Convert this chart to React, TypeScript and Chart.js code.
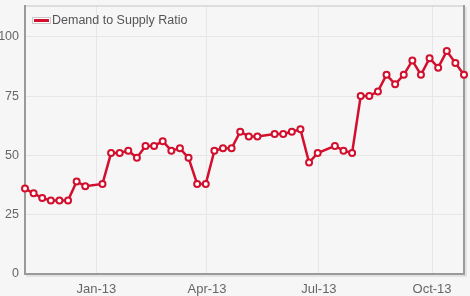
import React, { useEffect, useRef } from "react";
import { Chart, registerables } from "chart.js";

Chart.register(...registerables);

const seriesName = "Demand to Supply Ratio";
const dates = [
  "2012-11-04", "2012-11-11", "2012-11-18", "2012-11-25", "2012-12-02", "2012-12-09", "2012-12-16", "2012-12-23",
  "2013-01-06", "2013-01-13", "2013-01-20", "2013-01-27", "2013-02-03", "2013-02-10", "2013-02-17", "2013-02-24",
  "2013-03-03", "2013-03-10", "2013-03-17", "2013-03-24", "2013-03-31", "2013-04-07", "2013-04-14", "2013-04-21",
  "2013-04-28", "2013-05-05", "2013-05-12", "2013-05-26", "2013-06-02", "2013-06-09", "2013-06-16", "2013-06-23",
  "2013-06-30", "2013-07-14", "2013-07-21", "2013-07-28", "2013-08-04", "2013-08-11", "2013-08-18", "2013-08-25",
  "2013-09-01", "2013-09-08", "2013-09-15", "2013-09-22", "2013-09-29", "2013-10-06", "2013-10-13", "2013-10-20",
  "2013-10-27",
];
const ratios = [
  36, 34, 32, 31, 31, 31, 39, 37,
  38, 51, 51, 52, 49, 54, 54, 56,
  52, 53, 49, 38, 38, 52, 53, 53,
  60, 58, 58, 59, 59, 60, 61, 47,
  51, 54, 52, 51, 75, 75, 77, 84,
  80, 84, 90, 84, 91, 87, 94, 89,
  84,
];
const xTickDates = ["2013-01-01", "2013-04-01", "2013-07-01", "2013-10-01"];
const xTickLabels = ["Jan-13", "Apr-13", "Jul-13", "Oct-13"];
const yTicks = [0, 25, 50, 75, 100];

const DAY = 86400000;
const toDay = (s: string) => Date.parse(s + "T00:00:00Z") / DAY;

export default function App() {
  const ref = useRef<HTMLCanvasElement>(null);
  useEffect(() => {
    document.body.style.margin = "0";
    document.body.style.background = "#f6f6f6";
    const tickDays = xTickDates.map(toDay);
    const lineColor = "#d2102e";
    const framePlugin = {
      id: "frame",
      beforeDatasetsDraw(chart: any) {
        const { ctx, chartArea: a } = chart;
        ctx.save();
        ctx.lineCap = "square";
        ctx.strokeStyle = "#d4d4d4";
        ctx.lineWidth = 1.5;
        ctx.beginPath();
        ctx.moveTo(a.left, a.top);
        ctx.lineTo(a.right, a.top);
        ctx.stroke();
        ctx.strokeStyle = "#dcdcdc";
        ctx.lineWidth = 1.5;
        ctx.beginPath();
        ctx.moveTo(a.right + 2, a.top + 2);
        ctx.lineTo(a.right + 2, a.bottom + 2);
        ctx.lineTo(a.left + 2, a.bottom + 2);
        ctx.stroke();
        ctx.strokeStyle = "#9a9a9a";
        ctx.lineWidth = 2;
        ctx.beginPath();
        ctx.moveTo(a.left, a.top);
        ctx.lineTo(a.left, a.bottom);
        ctx.lineTo(a.right, a.bottom);
        ctx.lineTo(a.right, a.top);
        ctx.stroke();
        ctx.restore();
      },
      afterDraw(chart: any) {
        const { ctx, chartArea: a } = chart;
        ctx.save();
        const bx = a.left + 7, by = a.top + 11;
        ctx.fillStyle = "#ffffff";
        ctx.fillRect(bx, by, 19, 6);
        ctx.strokeStyle = "#c8c8c8";
        ctx.lineWidth = 1;
        ctx.strokeRect(bx + 0.5, by + 0.5, 18, 6);
        ctx.fillStyle = lineColor;
        ctx.fillRect(bx + 2, by + 2, 15, 3);
        ctx.fillStyle = "#555555";
        ctx.font = "12.5px 'Liberation Sans', Arial, sans-serif";
        ctx.textBaseline = "middle";
        ctx.textAlign = "left";
        ctx.fillText(seriesName, bx + 20, by + 3.5);
        ctx.restore();
      },
    };
    const chart = new Chart(ref.current!, {
      type: "line",
      data: {
        datasets: [
          {
            label: seriesName,
            data: dates.map((d, i) => ({ x: toDay(d), y: ratios[i] })),
            borderColor: lineColor,
            borderWidth: 2.5,
            pointRadius: 3,
            pointBorderWidth: 2,
            pointBackgroundColor: "#ffffff",
            pointBorderColor: lineColor,
            tension: 0,
            clip: false as any,
          },
        ],
      },
      options: {
        animation: false,
        responsive: false,
        layout: { padding: { top: 5, right: 6, left: 0, bottom: 0 } },
        plugins: { legend: { display: false }, tooltip: { enabled: false } },
        scales: {
          x: {
            type: "linear",
            min: toDay(dates[0]),
            max: toDay(dates[dates.length - 1]),
            afterBuildTicks(scale: any) {
              scale.ticks = tickDays.map((v) => ({ value: v }));
            },
            afterFit(scale: any) {
              scale.height = 22;
              scale.paddingLeft = 0;
              scale.paddingRight = 0;
              scale.paddingTop = 0;
              scale.paddingBottom = 0;
            },
            ticks: {
              padding: 8,
              color: "#666666",
              font: { family: "'Liberation Sans', Arial, sans-serif", size: 13 },
              maxRotation: 0,
              autoSkip: false,
              callback: (v: any) => {
                const i = tickDays.indexOf(Number(v));
                return i >= 0 ? xTickLabels[i] : "";
              },
            },
            grid: { color: "#e6e6e6", lineWidth: 1, drawTicks: false },
            border: { display: false },
          },
          y: {
            min: 0,
            max: 113,
            afterBuildTicks(scale: any) {
              scale.ticks = yTicks.map((v) => ({ value: v }));
            },
            afterFit(scale: any) {
              scale.width = 25;
              scale.paddingTop = 0;
              scale.paddingBottom = 0;
              scale.paddingLeft = 0;
              scale.paddingRight = 0;
            },
            ticks: {
              padding: 6,
              color: "#666666",
              font: { family: "'Liberation Sans', Arial, sans-serif", size: 12.5 },
            },
            grid: { color: "#e6e6e6", lineWidth: 1, drawTicks: false },
            border: { display: false },
          },
        },
      },
      plugins: [framePlugin],
    });
    return () => chart.destroy();
  }, []);
  return (
    <div style={{ width: 470, height: 296, background: "#f6f6f6" }}>
      <canvas ref={ref} width={470} height={296} style={{ display: "block" }} />
    </div>
  );
}
